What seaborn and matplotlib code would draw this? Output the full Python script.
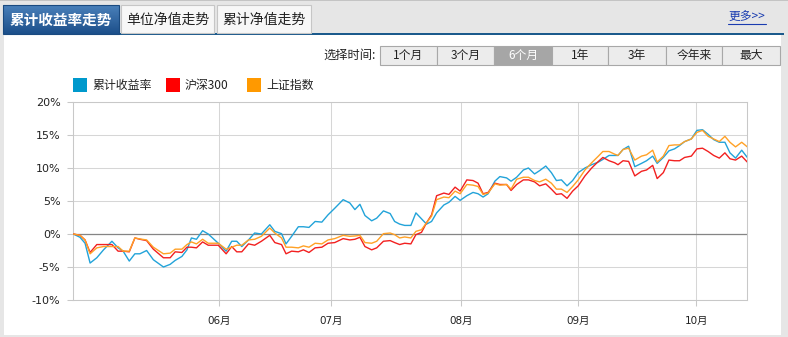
import numpy as np
import pandas as pd
import matplotlib
matplotlib.use('Agg')
import matplotlib.pyplot as plt
from matplotlib.patches import Rectangle
from matplotlib.colors import LinearSegmentedColormap
import seaborn as sns

# ---------------- data ----------------
day = [0, 1.2, 2.1, 3.0, 4.2, 5.4, 6.9, 8.0, 8.9, 10.0,
       11.0, 11.9, 13.1, 14.3, 16.1, 17.3, 18.2, 19.4, 20.3, 21.1,
       22.0, 23.1, 24.1, 25.9, 27.3, 28.3, 29.2, 30.1, 31.3, 32.4,
       33.6, 35.1, 36.0, 37.2, 38.0, 39.0, 40.2, 41.1, 42.1, 43.2,
       44.4, 45.5, 46.7, 48.2, 49.4, 50.3, 51.2, 52.1, 53.3, 54.2,
       55.4, 56.6, 57.4, 58.3, 59.2, 60.3, 61.2, 62.2, 63.1, 64.0,
       64.9, 66.2, 67.1, 68.2, 69.1, 70.3, 71.4, 72.3, 73.2, 74.1,
       75.3, 76.2, 77.4, 78.2, 79.2, 80.4, 81.3, 82.4, 83.3, 84.4,
       85.4, 86.3, 87.2, 88.2, 89.2, 90.2, 91.4, 92.6, 93.8, 94.6,
       95.7, 96.7, 97.3, 98.2, 99.2, 100.3, 101.5, 102.4, 103.5, 104.3,
       105.4, 106.4, 107.4, 108.3, 109.2, 110.4, 111.4, 112.4, 113.4, 114.4,
       115.4, 116.4, 117.3, 118.3, 119.4, 120.4]

fund_return = [0, -0.5, -1.4, -4.4, -3.6, -2.4, -1.1, -2.1, -2.6, -4.1,
               -3.0, -3.0, -2.5, -3.9, -5.0, -4.6, -4.0, -3.4, -2.4, -0.6,
               -0.8, 0.5, 0.0, -1.4, -2.6, -1.1, -1.1, -1.9, -0.9, 0.15,
               0.0, 1.4, 0.4, 0.05, -1.5, -0.35, 1.1, 1.1, 1.0, 1.9,
               1.8, 2.9, 3.9, 5.2, 4.7, 3.7, 4.5, 2.8, 2.0, 2.4,
               3.5, 3.1, 1.9, 1.5, 1.3, 1.3, 3.2, 2.3, 1.5, 1.9,
               3.2, 4.4, 4.8, 5.7, 5.1, 5.8, 6.3, 6.1, 5.6, 6.1,
               8.0, 8.7, 8.5, 8.0, 8.6, 9.7, 10.0, 9.1, 9.6, 10.3,
               9.3, 8.1, 8.2, 7.3, 8.1, 9.3, 10.0, 10.5, 10.9, 11.3,
               11.9, 11.9, 11.9, 12.8, 13.3, 10.2, 10.7, 11.1, 11.8, 10.7,
               11.6, 12.6, 12.9, 13.4, 14.0, 14.4, 15.7, 15.8, 15.1, 14.3,
               13.9, 13.9, 12.3, 11.5, 12.7, 11.6]

hs300 = [0, -0.2, -0.9, -2.8, -1.6, -1.6, -1.6, -2.6, -2.6, -2.7,
         -0.6, -0.8, -1.0, -2.3, -3.6, -3.6, -2.7, -2.8, -2.0, -2.0,
         -2.1, -1.2, -1.7, -1.7, -3.0, -1.9, -2.7, -2.7, -1.5, -1.7,
         -1.1, -0.2, -1.3, -1.6, -3.0, -2.6, -2.7, -2.4, -2.8, -2.1,
         -2.0, -1.4, -1.3, -0.7, -0.9, -0.8, -0.5, -1.9, -2.4, -2.1,
         -1.1, -1.0, -1.3, -1.6, -1.4, -1.5, -0.1, 0.25, 1.7, 2.9,
         5.8, 6.2, 6.0, 7.1, 6.5, 8.2, 8.1, 7.7, 6.1, 6.3,
         7.7, 7.5, 7.5, 6.6, 7.5, 8.2, 8.2, 7.9, 7.3, 7.6,
         6.8, 6.0, 6.1, 5.4, 6.5, 7.3, 8.8, 10.0, 11.0, 11.6,
         11.1, 10.8, 10.5, 11.1, 11.0, 8.8, 9.5, 9.7, 10.4, 8.4,
         9.3, 11.2, 11.1, 11.1, 11.6, 11.8, 12.9, 13.0, 12.5, 11.9,
         11.5, 12.3, 11.4, 11.2, 11.8, 10.9]

sh_index = [0, -0.2, -0.9, -3.0, -2.1, -1.9, -1.9, -1.9, -2.6, -2.6,
            -0.6, -0.75, -0.9, -2.0, -3.0, -2.9, -2.3, -2.3, -1.6, -1.2,
            -1.5, -0.8, -1.4, -1.4, -2.3, -2.0, -1.7, -1.7, -0.9, -0.8,
            -0.35, 0.9, 0.15, -0.6, -2.0, -2.0, -2.1, -1.8, -2.0, -1.4,
            -1.5, -0.9, -0.7, -0.2, -0.35, -0.3, -0.2, -1.3, -1.4, -1.1,
            0.05, 0.15, -0.1, -0.6, -0.45, -0.6, 0.4, 0.65, 1.7, 2.7,
            5.2, 5.6, 5.5, 6.5, 6.1, 7.5, 7.4, 7.2, 6.0, 6.2,
            7.6, 7.4, 7.5, 6.8, 8.3, 8.6, 8.6, 8.1, 7.9, 8.3,
            7.7, 6.8, 6.8, 6.3, 7.2, 8.2, 9.7, 10.8, 11.8, 12.5,
            12.5, 12.1, 11.9, 12.8, 13.0, 11.2, 11.8, 12.0, 12.7, 10.9,
            11.8, 13.4, 13.5, 13.5, 14.0, 14.4, 15.4, 15.7, 14.8, 14.4,
            14.0, 14.8, 13.9, 13.2, 13.9, 13.2]

series_names = ['累计收益率', '沪深300', '上证指数']
month_pos = [26.1, 46.1, 69.3, 90.2, 111.3]
month_labels = ['06月', '07月', '08月', '09月', '10月']
y_ticks = [-10, -5, 0, 5, 10, 15, 20]
y_labels = ['-10%', '-5%', '0%', '5%', '10%', '15%', '20%']
tabs = ['累计收益率走势', '单位净值走势', '累计净值走势']
period_buttons = ['1个月', '3个月', '6个月', '1年', '3年', '今年来', '最大']
selected_period = '6个月'

# ---------------- style ----------------
sns.set_theme(style='white')
plt.rcParams['font.family'] = ['DejaVu Sans', 'Noto Sans CJK SC']
CJK = ['Noto Sans CJK SC', 'DejaVu Sans']

line_colors = ['#22a3d9', '#f22020', '#ffa126']
legend_colors = ['#0099cc', '#ff0000', '#ff9900']

W, H = 788, 337
fig = plt.figure(figsize=(W / 100, H / 100), dpi=100, facecolor='#e6e6e6')

# background / chrome layer in pixel coordinates
bg = fig.add_axes([0, 0, 1, 1])
bg.axis('off')
bg.add_patch(Rectangle((0, 0), W, 1.2, fc='#c4c4c4', ec='none'))
bg.add_patch(Rectangle((4, 35), 777, 300, fc='white', ec='none'))
bg.add_patch(Rectangle((4, 32.8), 780, 2.6, fc='#1b5a8c', ec='none'))

# tabs
grad = np.linspace(0, 1, 60).reshape(-1, 1)
cmap = LinearSegmentedColormap.from_list('tab', ['#4a80ba', '#1c4f8a'])
bg.imshow(grad, extent=(3, 119, 34, 5), cmap=cmap, aspect='auto', zorder=2)
bg.add_patch(Rectangle((3, 5), 116, 29, fc='none', ec='#1a4a80', lw=0.8, zorder=3))
bg.text(61, 20, tabs[0], color='white', fontsize=10.5, fontweight='bold',
        family=CJK, ha='center', va='center', zorder=4)
for (x0, x1), label in zip([(121, 214), (217, 311)], tabs[1:]):
    bg.add_patch(Rectangle((x0, 5), x1 - x0, 28, fc='#f7f7f7', ec='#c6c6c6', lw=0.8, zorder=2))
    bg.text((x0 + x1) / 2, 20, label, color='#222222', fontsize=10, family=CJK,
            ha='center', va='center', zorder=4)

# "more" link
bg.text(747, 17, '更多>>', color='#1a3cb0', fontsize=8.5, family=CJK, ha='center', va='center')
bg.plot([728, 766], [23.5, 23.5], color='#1a3cb0', lw=0.8)

# period selector
bg.text(376, 55.5, '选择时间:', color='#222222', fontsize=8.8, family=CJK, ha='right', va='center')
edges = [380, 437, 494, 552, 608, 666, 722, 780]
for i, label in enumerate(period_buttons):
    sel = label == selected_period
    bg.add_patch(Rectangle((edges[i], 46), edges[i + 1] - edges[i], 19,
                           fc='#a6a6a6' if sel else '#ececec', ec='#a8a8a8', lw=0.8))
    bg.text((edges[i] + edges[i + 1]) / 2, 55.5, label, fontsize=8.5, family=CJK,
            color='white' if sel else '#222222', ha='center', va='center')

# legend
for x0, name, col in zip([73, 166, 247], series_names, legend_colors):
    bg.add_patch(Rectangle((x0, 78), 14, 14, fc=col, ec='none'))
    bg.text(x0 + 19, 85.5, name, fontsize=8.6, family=CJK, color='#222222',
            ha='left', va='center')

bg.set_xlim(0, W)
bg.set_ylim(H, 0)

# ---------------- chart ----------------
left_px, right_px, top_px, bottom_px = 73.3, 747.3, 102, 300
ax = fig.add_axes([left_px / W, 1 - bottom_px / H, (right_px - left_px) / W,
                   (bottom_px - top_px) / H])
ax.set_facecolor('white')

df = pd.concat([
    pd.DataFrame({'day': day, 'value': vals, 'series': name})
    for name, vals in zip(series_names, [fund_return, hs300, sh_index])
], ignore_index=True)

sns.lineplot(data=df, x='day', y='value', hue='series', hue_order=series_names,
             palette=line_colors, linewidth=1.0, legend=False, estimator=None,
             ax=ax, zorder=3)

ax.set_xlim(0, 120.4)
ax.set_ylim(-10, 20)
ax.set_yticks(y_ticks)
ax.set_yticklabels(y_labels)
ax.set_xticks(month_pos)
ax.set_xticklabels(month_labels)
ax.set_xlabel('')
ax.set_ylabel('')
ax.set_axisbelow(True)
ax.grid(True, color='#d6d6d6', lw=0.75)
ax.axhline(0, color='#858585', lw=0.9, zorder=2)
ax.tick_params(axis='both', which='both', bottom=True, left=True, length=4.3,
               width=0.75, color='#c8c8c8', labelcolor='#222222')
ax.tick_params(axis='y', labelsize=8, pad=5)
ax.tick_params(axis='x', labelsize=7.5, pad=7)
for s in ax.spines.values():
    s.set_color('#c8c8c8')
    s.set_linewidth(0.75)

fig.savefig('out.png', dpi=100, facecolor=fig.get_facecolor())
